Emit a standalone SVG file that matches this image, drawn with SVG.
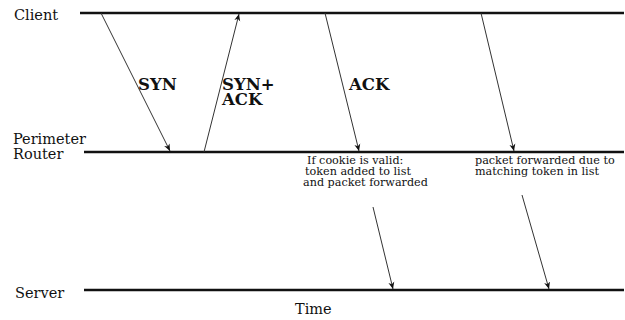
<svg xmlns="http://www.w3.org/2000/svg" width="625" height="320" viewBox="0 0 625 320">
<style>
text{font-family:"DejaVu Serif","Liberation Serif",serif;fill:#111}
.lbl{font-size:14.5px}
.b{font-size:16.5px;font-weight:bold}
.s{font-size:11.2px}
.tl{stroke:#111;stroke-width:2.5;fill:none}
.ar{stroke:#333;stroke-width:1;fill:none;marker-end:url(#ah)}
</style>
<defs>
<marker id="ah" markerWidth="8" markerHeight="8" refX="7" refY="4" orient="auto" markerUnits="userSpaceOnUse">
<path d="M0,1 L7,4 L0,7 L2,4 Z" fill="#111"/>
</marker>
</defs>
<rect width="625" height="320" fill="#fff"/>
<g id="client"><text class="lbl" x="14" y="20" font-size="15.5">Client</text><line class="tl" x1="80" y1="13" x2="624" y2="13"/></g>
<g id="router"><text class="lbl" x="13" y="144">Perimeter</text><text class="lbl" x="13" y="159">Router</text><line class="tl" x1="84" y1="152" x2="624" y2="152"/></g>
<g id="server"><text class="lbl" x="15" y="298">Server</text><line class="tl" x1="84" y1="290" x2="624" y2="290"/></g>
<g id="time"><text class="lbl" x="295" y="314">Time</text></g>
<g id="connectors">
<line class="ar" x1="101" y1="13" x2="170" y2="151"/>
<line class="ar" x1="204" y1="152" x2="239" y2="14"/>
<line class="ar" x1="325" y1="13" x2="359" y2="151"/>
<line class="ar" x1="481" y1="13" x2="514" y2="151"/>
<line class="ar" x1="373" y1="207" x2="393" y2="289"/>
<line class="ar" x1="522" y1="195" x2="549" y2="289"/>
</g>
<g id="labels">
<text class="b" x="138" y="90">SYN</text>
<text class="b" x="222" y="90">SYN+</text>
<text class="b" x="222" y="105">ACK</text>
<text class="b" x="349" y="90">ACK</text>
<text class="s" x="307" y="164">If cookie is valid:</text>
<text class="s" x="305" y="175">token added to list</text>
<text class="s" x="303" y="186">and packet forwarded</text>
<text class="s" x="475" y="164">packet forwarded due to</text>
<text class="s" x="475" y="175">matching token in list</text>
</g>
</svg>
